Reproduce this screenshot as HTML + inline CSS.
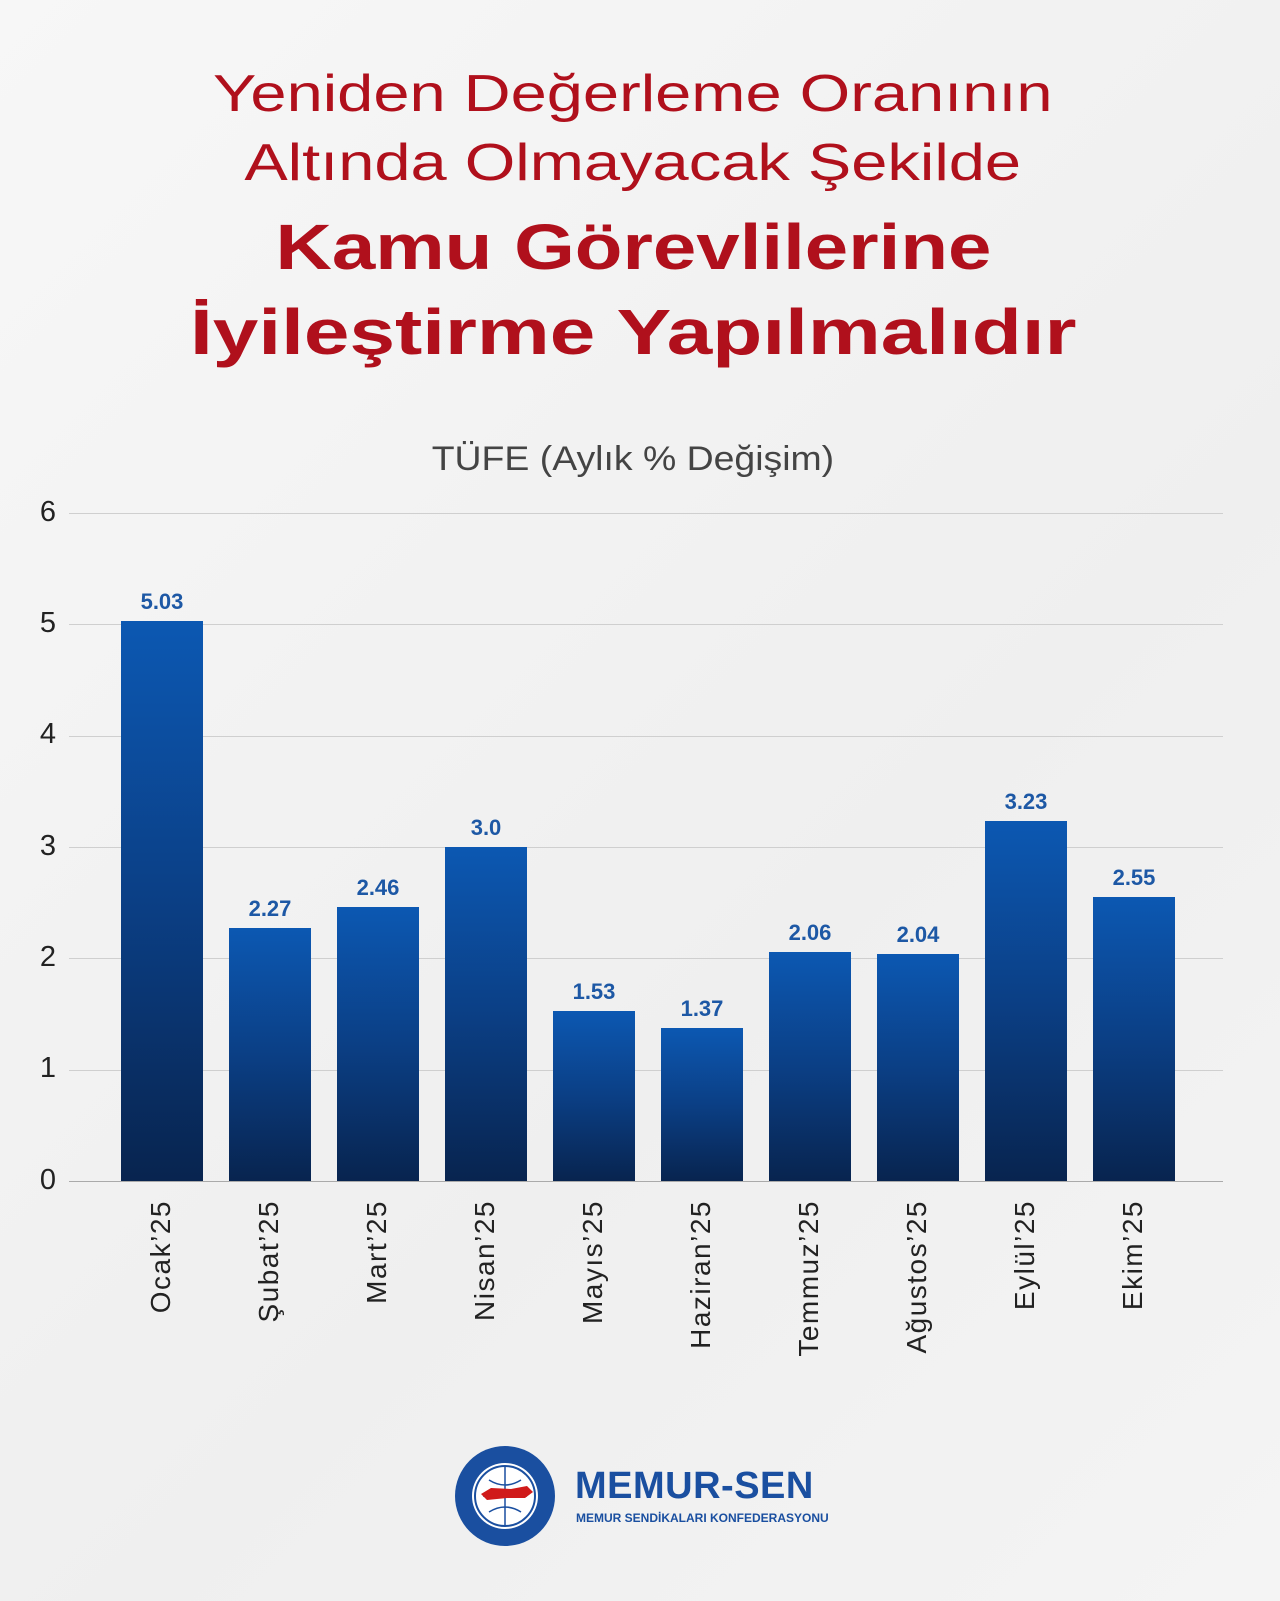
<!DOCTYPE html>
<html><head><meta charset="utf-8"><style>
body{margin:0;width:1280px;height:1601px;overflow:hidden;background:linear-gradient(135deg,#f7f7f7,#efefef 60%,#f4f4f4);font-family:"Liberation Sans","DejaVu Sans",sans-serif;position:relative}
.t{position:absolute;left:0;width:1266px;text-align:center;color:#b0101c;white-space:nowrap}
.t span{display:inline-block}
.g{position:absolute;left:69px;width:1154px;height:1px;background:#cfcfcf}
.yl{position:absolute;left:30px;width:36px;text-align:center;font-size:29px;color:#222}
.bar{position:absolute;width:82px;background:linear-gradient(#0c58b2,#0b3f85 50%,#08244f)}
.v{position:absolute;width:120px;text-align:center;font-weight:bold;font-size:22px;color:#1d58a5}
.xl{position:absolute;top:1200px;transform-origin:0 0;transform:rotate(-90deg) translateX(-100%);font-size:28px;letter-spacing:1.5px;color:#222;white-space:nowrap}
</style></head><body>
<div class="t" style="top:64px;font-size:52px"><span style="transform:scaleX(1.25)">Yeniden Değerleme Oranının</span></div>
<div class="t" style="top:133px;font-size:52px"><span style="transform:scaleX(1.25)">Altında Olmayacak Şekilde</span></div>
<div class="t" style="top:210px;font-size:64px;font-weight:bold"><span style="transform:scaleX(1.22)">Kamu Görevlilerine</span></div>
<div class="t" style="top:295px;font-size:64px;font-weight:bold"><span style="transform:scaleX(1.28)">İyileştirme Yapılmalıdır</span></div>
<div class="t" style="top:440px;font-size:34px;color:#444"><span style="transform:scaleX(1.1)">TÜFE (Aylık % Değişim)</span></div>

<div class="g" style="top:513px"></div><div class="yl" style="top:496px">6</div>
<div class="g" style="top:624px"></div><div class="yl" style="top:607px">5</div>
<div class="g" style="top:736px"></div><div class="yl" style="top:718px">4</div>
<div class="g" style="top:847px"></div><div class="yl" style="top:830px">3</div>
<div class="g" style="top:958px"></div><div class="yl" style="top:941px">2</div>
<div class="g" style="top:1070px"></div><div class="yl" style="top:1052px">1</div>
<div class="g" style="top:1181px;background:#aaa"></div><div class="yl" style="top:1164px">0</div>

<div class="bar" style="left:121px;top:621px;height:560px"></div><div class="v" style="left:102px;top:589px">5.03</div>
<div class="bar" style="left:229px;top:928px;height:253px"></div><div class="v" style="left:210px;top:896px">2.27</div>
<div class="bar" style="left:337px;top:907px;height:274px"></div><div class="v" style="left:318px;top:875px">2.46</div>
<div class="bar" style="left:445px;top:847px;height:334px"></div><div class="v" style="left:426px;top:815px">3.0</div>
<div class="bar" style="left:553px;top:1011px;height:170px"></div><div class="v" style="left:534px;top:979px">1.53</div>
<div class="bar" style="left:661px;top:1028px;height:153px"></div><div class="v" style="left:642px;top:996px">1.37</div>
<div class="bar" style="left:769px;top:952px;height:229px"></div><div class="v" style="left:750px;top:920px">2.06</div>
<div class="bar" style="left:877px;top:954px;height:227px"></div><div class="v" style="left:858px;top:922px">2.04</div>
<div class="bar" style="left:985px;top:821px;height:360px"></div><div class="v" style="left:966px;top:789px">3.23</div>
<div class="bar" style="left:1093px;top:897px;height:284px"></div><div class="v" style="left:1074px;top:865px">2.55</div>

<div class="xl" style="left:145px">Ocak’25</div>
<div class="xl" style="left:253px">Şubat’25</div>
<div class="xl" style="left:361px">Mart’25</div>
<div class="xl" style="left:469px">Nisan’25</div>
<div class="xl" style="left:577px">Mayıs’25</div>
<div class="xl" style="left:685px">Haziran’25</div>
<div class="xl" style="left:793px">Temmuz’25</div>
<div class="xl" style="left:901px">Ağustos’25</div>
<div class="xl" style="left:1009px">Eylül’25</div>
<div class="xl" style="left:1117px">Ekim’25</div>

<svg style="position:absolute;left:453px;top:1444px" width="104" height="104" viewBox="0 0 104 104">
<circle cx="52" cy="52" r="50" fill="#1a4fa0"/><circle cx="52" cy="52" r="33" fill="#fff"/>
<circle cx="52" cy="52" r="30" fill="none" stroke="#1a4fa0" stroke-width="2"/>
<path d="M30 52h44M52 22v60M36 36q16 10 32 0M36 68q16-10 32 0" stroke="#1a4fa0" fill="none" stroke-width="1.5"/>
<path d="M28 50l10-6 20 1 16-3 6 6-8 6-18 0-20 2z" fill="#d01a1a"/>
</svg>
<div style="position:absolute;left:575px;top:1465px;font-size:38px;font-weight:bold;color:#1a4fa0;letter-spacing:0.5px">MEMUR-SEN</div>
<div style="position:absolute;left:576px;top:1511px;font-size:12px;font-weight:bold;color:#1a4fa0">MEMUR SENDİKALARI KONFEDERASYONU</div>
</body></html>
